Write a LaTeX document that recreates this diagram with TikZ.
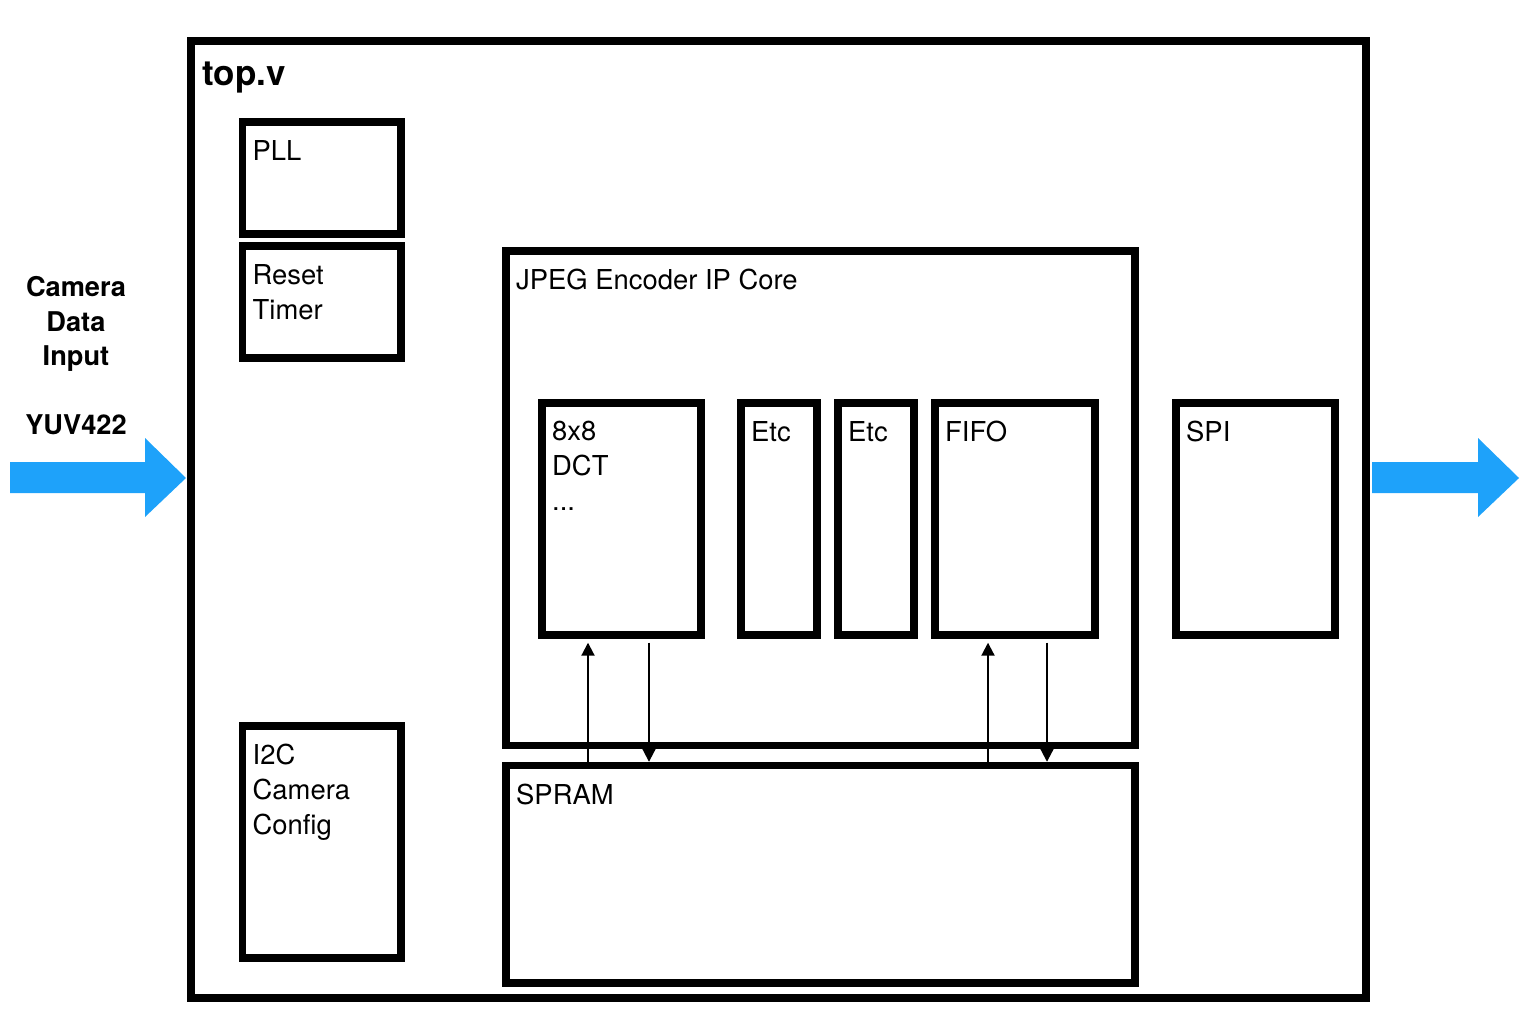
\documentclass[tikz,border=0pt]{standalone}
\usepackage{fontspec}
\setmainfont{TeX Gyre Heros}
\usetikzlibrary{arrows.meta,fit}
\definecolor{flowblue}{RGB}{30,162,250}
\tikzset{
  block/.style={draw, line width=3.7pt, inner sep=0pt},
  blocklabel/.style={anchor=north west, inner sep=0pt, align=left,
    font=\fontsize{13.7}{17.5}\selectfont},
  busline/.style={line width=1pt, -{Triangle[width=6.5pt,length=6.5pt]}},
}
\begin{document}
\begin{tikzpicture}[x=0.5pt, y=-0.5pt]
  \useasboundingbox (0,0) rectangle (1530,1022);
  % Top-level module
  \node[block, fit={(191,41) (1366,998)}] (top) {};
  \node[anchor=north west, inner sep=0pt,
    font=\bfseries\fontsize{17.5}{20}\selectfont] at (202,62) {top.v};
  % Left column
  \node[block, fit={(242.5,122) (401,234)}] (pll) {};
  \node[block, fit={(242.5,246) (401,358)}] (rst) {};
  \node[block, fit={(242.5,726) (401,958)}] (i2c) {};
  % JPEG core and its stages
  \node[block, fit={(506,251) (1135,745.5)}] (jpeg) {};
  \node[block, fit={(542,403) (701,635)}] (dct) {};
  \node[block, fit={(741,403) (817,635)}] (etca) {};
  \node[block, fit={(838,403) (914,635)}] (etcb) {};
  \node[block, fit={(935,403) (1095,635)}] (fifo) {};
  % Output side and memory
  \node[block, fit={(1176,403) (1335,635)}] (spi) {};
  \node[block, fit={(506,765.5) (1135,983)}] (spram) {};
  % Block labels
  \foreach \name/\lbl in {%
    pll/PLL, rst/{Reset\\Timer}, i2c/{I2C\\Camera\\Config},
    jpeg/{JPEG Encoder IP Core}, dct/{8x8\\DCT\\...},
    etca/Etc, etcb/Etc, fifo/FIFO, spi/SPI, spram/SPRAM%
  }{
    \node[blocklabel] at ([shift={(13.5,21.5)}]\name.north west) {\lbl};
  }
  % Memory buses
  \draw[busline, shorten >=2pt] (588,0 |- spram.north) -- (588,0 |- dct.south);
  \draw[busline, shorten <=2pt] (649,0 |- dct.south) -- (649,0 |- spram.north);
  \draw[busline, shorten >=2pt] (988,0 |- spram.north) -- (988,0 |- fifo.south);
  \draw[busline, shorten <=2pt] (1047,0 |- fifo.south) -- (1047,0 |- spram.north);
  % Camera input
  \node[anchor=north, inner sep=0pt, align=center,
    font=\bfseries\fontsize{13.6}{17.25}\selectfont] (camtxt) at (76,276)
    {Camera\\Data\\Input\\[17.25pt]YUV422};
  \fill[flowblue] (10,462) -- (145,462) -- (145,438) -- (186,478)
    -- (145,517) -- (145,493) -- (10,493) -- cycle;
  % Output
  \fill[flowblue] (1372,462) -- (1478,462) -- (1478,438) -- (1519,478)
    -- (1478,517) -- (1478,493) -- (1372,493) -- cycle;
\end{tikzpicture}
\end{document}
